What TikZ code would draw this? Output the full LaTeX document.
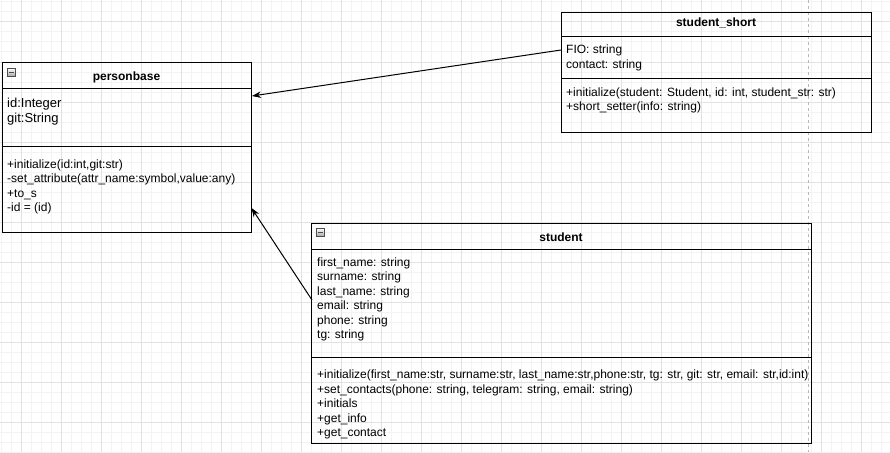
\documentclass[tikz,border=0pt]{standalone}
\usepackage{fontspec}
\setmainfont{Liberation Sans}
\usetikzlibrary{arrows.meta}
\definecolor{gridminor}{HTML}{F3F3F3}
\definecolor{gridmajor}{HTML}{E2E2E2}
\definecolor{pagebrk}{HTML}{B8B8B8}
\tikzset{
  classbox/.style={draw=black, line width=1pt, anchor=north west, inner sep=0pt},
  sepline/.style={draw=black, line width=1pt},
  txt/.style={anchor=base west, inner sep=0pt, align=left, font=\fontsize{12}{14.4}\selectfont},
  bigtxt/.style={txt, font=\fontsize{13}{15}\selectfont},
  ttl/.style={anchor=base, inner sep=0pt, font=\fontsize{12}{14.4}\selectfont\bfseries},
  icon/.style={draw=black!70, line width=0.6pt, top color=white, bottom color=black!35, minimum width=8pt, minimum height=8pt, inner sep=0pt, anchor=north west},
  inherit/.style={draw=black, line width=1pt, -{Stealth[length=9pt,width=6.5pt]}}
}
\begin{document}
\begin{tikzpicture}[x=1pt,y=-1pt]
\useasboundingbox (0,0) rectangle (890,452);
% grid
\foreach \x in {1,11,...,890} \draw[gridminor, line width=1pt] (\x,0) -- (\x,452);
\foreach \y in {2,12,...,452} \draw[gridminor, line width=1pt] (0,\y) -- (890,\y);
\foreach \x in {21,61,...,890} \draw[gridmajor, line width=1pt] (\x,0) -- (\x,452);
\foreach \y in {22,62,...,452} \draw[gridmajor, line width=1pt] (0,\y) -- (890,\y);
% page break
\draw[pagebrk, line width=1pt, dash pattern=on 3pt off 3pt] (808,0) -- (808,452);

% personbase
\node[classbox, minimum width=249pt, minimum height=170pt] (pb) at (2,62) {};
\draw[sepline] (2,88) -- (251,88);
\draw[sepline] (2,146) -- (251,146);
\node[icon] (pbicon) at (7,68) {};
\draw[black!70, line width=0.8pt] (8.5,72) -- (13.5,72);
\node[ttl] (pbtitle) at (126.5,80) {personbase};
% base anchor of a multi-line node = baseline of its last line
\node[bigtxt] (pbattr) at (7,122.5) {id:Integer\\git:String};
\node[txt] (pbmeth) at (7,211.5) {+initialize(id:int,git:str)\\-set\_attribute(attr\_name:symbol,value:any)\\+to\_s\\-id = (id)};

% student_short
\node[classbox, minimum width=310pt, minimum height=120pt] (ss) at (561,12) {};
\draw[sepline] (561,37) -- (871,37);
\draw[sepline] (561,78) -- (871,78);
\node[ttl] (sstitle) at (716,26.5) {student\_short};
\node[txt] (ssattr) at (566,68) {FIO: string\\contact: string};
\node[txt] (ssmeth) at (566,110.5) {+initialize(student: Student, id: int, student\_str: str)\\+short\_setter(info: string)};

% student
\node[classbox, minimum width=500pt, minimum height=220pt] (st) at (311,223) {};
\draw[sepline] (311,249) -- (811,249);
\draw[sepline] (311,357) -- (811,357);
\node[icon] (sticon) at (316,228) {};
\draw[black!70, line width=0.8pt] (317.5,232) -- (322.5,232);
\node[ttl] (sttitle) at (561,241) {student};
\node[txt] (stattr) at (317,338.5) {first\_name: string\\surname: string\\last\_name: string\\email: string\\phone: string\\tg: string};
\node[txt] (stmeth) at (317,436.5) {+initialize(first\_name:str, surname:str, last\_name:str,phone:str, tg: str, git: str, email: str,id:int)\\+set\_contacts(phone: string, telegram: string, email: string)\\+initials\\+get\_info\\+get\_contact};

% connectors
\coordinate (ssA) at (561,50);
\coordinate (pbA) at (252,96);
\coordinate (stA) at (312,300);
\coordinate (pbB) at (251.5,208);
\draw[inherit] (ssA) -- (pbA);
\draw[inherit] (stA) -- (pbB);
\end{tikzpicture}
\end{document}
